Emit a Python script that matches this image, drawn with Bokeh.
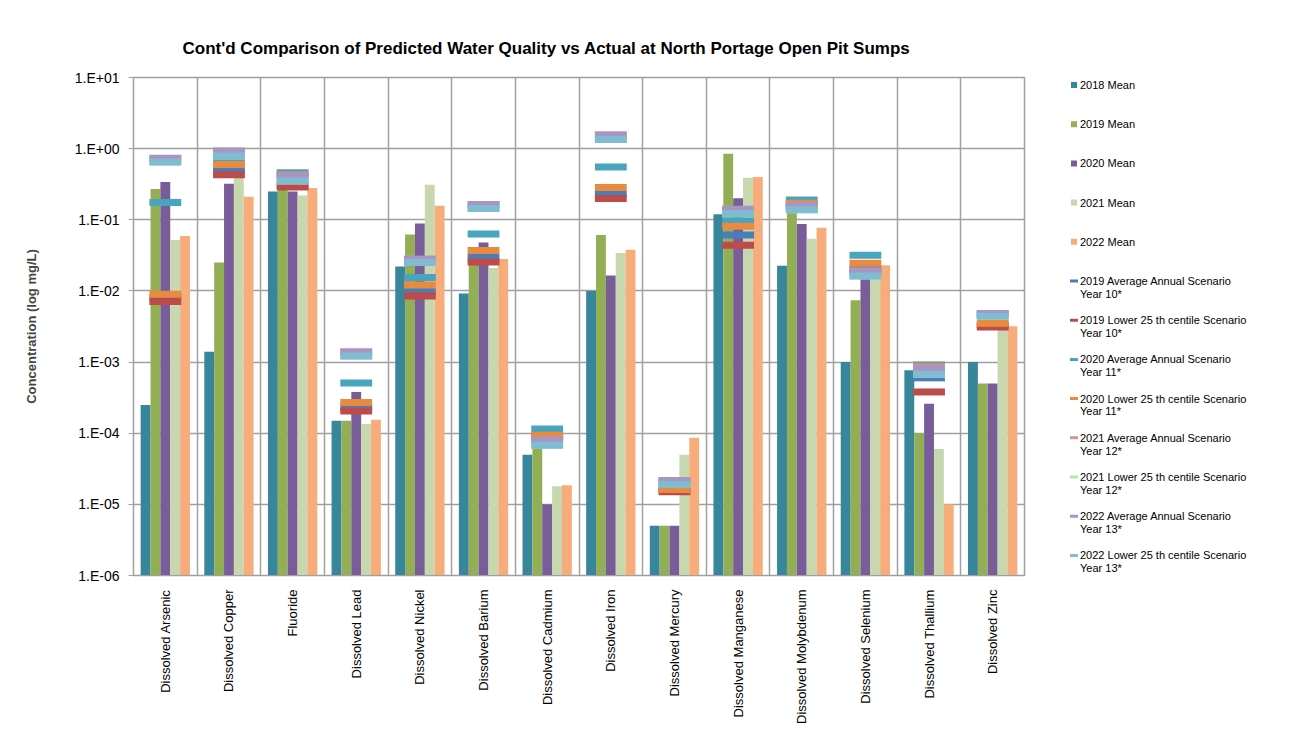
import numpy as np
from bokeh.plotting import figure
from bokeh.layouts import row
from bokeh.models import (FactorRange, ColumnDataSource, FixedTicker,
                          CustomJSTickFormatter, Range1d)
from bokeh.core.properties import value
from bokeh.transform import dodge
from bokeh.embed import file_html
from bokeh.resources import INLINE

# ---------------- data ----------------
categories = ["Dissolved Arsenic", "Dissolved Copper", "Fluoride", "Dissolved Lead",
              "Dissolved Nickel", "Dissolved Barium", "Dissolved Cadmium", "Dissolved Iron",
              "Dissolved Mercury", "Dissolved Manganese", "Dissolved Molybdenum",
              "Dissolved Selenium", "Dissolved Thallium", "Dissolved Zinc"]

mean_2018 = [2.5e-4, 1.4e-3, 0.25, 1.5e-4, 0.022, 0.0092, 5.0e-5, 0.010, 5.0e-6, 0.12, 0.0225, 1.0e-3, 7.7e-4, 1.0e-3]
mean_2019 = [0.27, 0.025, 0.30, 1.5e-4, 0.062, 0.028, 7.0e-5, 0.061, 5.0e-6, 0.85, 0.13, 0.0074, 1.0e-4, 5.0e-4]
mean_2020 = [0.34, 0.32, 0.25, 3.8e-4, 0.089, 0.048, 1.0e-5, 0.0165, 5.0e-6, 0.20, 0.087, 0.016, 2.6e-4, 5.0e-4]
mean_2021 = [0.052, 0.45, 0.22, 1.35e-4, 0.31, 0.021, 1.8e-5, 0.034, 5.0e-5, 0.39, 0.054, 0.017, 6.0e-5, 3.0e-3]
mean_2022 = [0.059, 0.21, 0.28, 1.55e-4, 0.157, 0.028, 1.85e-5, 0.038, 8.6e-5, 0.40, 0.077, 0.023, 1.0e-5, 3.2e-3]

avg_2019 = [0.008, 0.50, 0.31, 2.3e-4, 0.010, 0.030, 9.0e-5, 0.233, 1.6e-5, 0.061, 0.16, 0.020, 6.0e-4, 3.3e-3]
low_2019 = [0.0071, 0.43, 0.29, 2.05e-4, 0.0085, 0.0255, 8.5e-5, 0.199, 1.5e-5, 0.044, 0.15, 0.018, 3.8e-4, 3.1e-3]
avg_2020 = [0.175, 0.70, 0.46, 5.1e-4, 0.0154, 0.063, 1.15e-4, 0.55, 2.0e-5, 0.096, 0.19, 0.0317, 9.1e-4, 4.6e-3]
low_2020 = [0.009, 0.60, 0.43, 2.7e-4, 0.0121, 0.037, 9.4e-5, 0.284, 1.62e-5, 0.081, 0.171, 0.0245, 8.7e-4, 3.5e-3]
avg_2021 = [0.72, 0.92, 0.41, 1.38e-3, 0.0278, 0.163, 8.0e-5, 1.55, 2.15e-5, 0.140, 0.16, 0.019, 8.2e-4, 4.8e-3]
low_2021 = [0.65, 0.79, 0.35, 1.22e-3, 0.025, 0.144, 6.8e-5, 1.34, 1.9e-5, 0.122, 0.138, 0.0162, 6.7e-4, 4.4e-3]
avg_2022 = [0.73, 0.93, 0.42, 1.39e-3, 0.0279, 0.164, 8.0e-5, 1.56, 2.17e-5, 0.141, 0.16, 0.0191, 8.3e-4, 4.8e-3]
low_2022 = [0.65, 0.79, 0.35, 1.22e-3, 0.025, 0.144, 6.8e-5, 1.34, 1.9e-5, 0.122, 0.138, 0.0162, 6.7e-4, 4.4e-3]

y_ticks = [1e-6, 1e-5, 1e-4, 1e-3, 1e-2, 1e-1, 1e0, 1e1]

bar_series = [
    ("m2018", mean_2018, ["2018 Mean"], "#37869B"),
    ("m2019", mean_2019, ["2019 Mean"], "#93AF56"),
    ("m2020", mean_2020, ["2020 Mean"], "#785D98"),
    ("m2021", mean_2021, ["2021 Mean"], "#C7D7AE"),
    ("m2022", mean_2022, ["2022 Mean"], "#F7AC7B"),
]
marker_series = [
    ("a2019", avg_2019, ["2019 Average Annual Scenario", "Year 10*"], "#4A7EBB"),
    ("l2019", low_2019, ["2019 Lower 25 th centile Scenario", "Year 10*"], "#BC4B49"),
    ("a2020", avg_2020, ["2020 Average Annual Scenario", "Year 11*"], "#49A4BD"),
    ("l2020", low_2020, ["2020 Lower 25 th centile Scenario", "Year 11*"], "#E98B3E"),
    ("a2021", avg_2021, ["2021 Average Annual Scenario", "Year 12*"], "#D39392"),
    ("l2021", low_2021, ["2021 Lower 25 th centile Scenario", "Year 12*"], "#A4F0B0"),
    ("a2022", avg_2022, ["2022 Average Annual Scenario", "Year 13*"], "#A895C4"),
    ("l2022", low_2022, ["2022 Lower 25 th centile Scenario", "Year 13*"], "#7FBCD2"),
]

data = {"cat": categories}
for k, v, _, _ in bar_series + marker_series:
    data[k] = v
src = ColumnDataSource(data)

FONT = "Liberation Sans"
GRID = "#A0A0A0"
LEG_W = 248
TOP, BOTTOM = 77, 160

p = figure(x_range=FactorRange(factors=categories), y_axis_type="log",
           y_range=Range1d(1e-6, 10), width=1292 - LEG_W, height=735,
           output_backend="svg", toolbar_location=None,
           min_border_left=133, min_border_right=20, min_border_top=TOP, min_border_bottom=BOTTOM,
           title="Cont'd Comparison of Predicted Water Quality vs Actual at North Portage Open Pit Sumps")

p.title.text_font = FONT
p.title.text_font_size = "17px"
p.title.text_font_style = "bold"
p.title.align = "left"
p.title.offset = 49
p.title.standoff = 39
p.title.text_color = "#000000"

p.background_fill_color = "white"
p.border_fill_color = "white"
p.outline_line_color = GRID
p.outline_line_width = 1.5

# grids
p.ygrid.ticker = FixedTicker(ticks=y_ticks, minor_ticks=[])
p.ygrid.grid_line_color = GRID
p.ygrid.grid_line_width = 1.5
p.xgrid.ticker = FixedTicker(ticks=list(range(len(categories) + 1)))
p.xgrid.grid_line_color = GRID
p.xgrid.grid_line_width = 1.5

# y axis
p.yaxis.ticker = FixedTicker(ticks=y_ticks, minor_ticks=[])
p.yaxis.formatter = CustomJSTickFormatter(code="""
const e = Math.round(Math.log10(tick));
const s = e < 0 ? '-' : '+';
const a = Math.abs(e);
return '1.E' + s + (a < 10 ? '0' + a : '' + a);
""")
p.yaxis.axis_label = "Concentration (log mg/L)"
p.yaxis.axis_label_text_font = FONT
p.yaxis.axis_label_text_font_style = "bold"
p.yaxis.axis_label_text_font_size = "13px"
p.yaxis.axis_label_standoff = 33
p.yaxis.major_label_text_font = FONT
p.yaxis.major_label_text_font_size = "14px"
p.yaxis.major_label_text_color = "#000000"
p.yaxis.major_label_standoff = 9
p.yaxis.major_tick_out = 5
p.yaxis.major_tick_in = 0
p.yaxis.minor_tick_line_color = None
p.yaxis.axis_line_color = GRID
p.yaxis.major_tick_line_color = GRID

# x axis
p.xaxis.major_label_orientation = np.pi / 2
p.xaxis.major_label_text_font = FONT
p.xaxis.major_label_text_font_size = "13px"
p.xaxis.major_label_text_color = "#000000"
p.xaxis.major_label_standoff = 8
p.xaxis.major_tick_line_color = None
p.xaxis.axis_line_color = GRID

# bars
offsets = [-0.31, -0.155, 0.0, 0.155, 0.31]
for (k, v, lab, col), off in zip(bar_series, offsets):
    p.vbar(x=dodge("cat", off, range=p.x_range), top=k, bottom=1e-6, width=0.155,
           source=src, fill_color=col, line_color=None)

# scenario markers (short horizontal dashes)
for k, v, lab, col in marker_series:
    p.rect(x="cat", y=k, width=0.5, height=7, height_units="screen", source=src,
           fill_color=col, line_color=None)

# ---------------- legend (separate panel, pixel coordinates) ----------------
leg = figure(width=LEG_W, height=735, x_range=Range1d(0, LEG_W),
             y_range=Range1d(735 - BOTTOM, TOP),
             output_backend="svg", toolbar_location=None,
             x_axis_type=None, y_axis_type=None,
             min_border_left=0, min_border_right=0,
             min_border_top=TOP, min_border_bottom=BOTTOM)
leg.grid.visible = False
leg.outline_line_color = None
leg.background_fill_color = "white"
leg.border_fill_color = "white"

GX, TX = 29.5, 35.5
Y0, PITCH, LINE = 84.5, 39.2, 12.7
entries = bar_series + marker_series
for i, (k, v, lab, col) in enumerate(entries):
    y = Y0 + i * PITCH
    if i < len(bar_series):
        leg.rect(x=[GX], y=[y], width=6, height=6, fill_color=col, line_color=None)
    else:
        leg.rect(x=[GX], y=[y], width=8, height=3, fill_color=col, line_color=None)
    for j, line in enumerate(lab):
        leg.text(x=[TX], y=[y + j * LINE], text=[line], text_baseline="middle",
                 text_align="left", text_font=value(FONT), text_font_size="11px",
                 text_color="#000000")

open("out.html", "w").write(file_html(row(p, leg), INLINE))
